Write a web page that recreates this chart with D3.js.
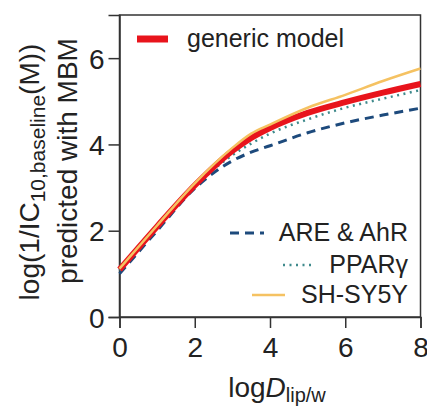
<!DOCTYPE html>
<html>
<head>
<meta charset="utf-8">
<script src="https://d3js.org/d3.v7.min.js"></script>
<style>
  body { margin: 0; background: #fff; }
  text { font-family: "Liberation Sans", Arial, Helvetica, sans-serif; fill: #222; }
</style>
</head>
<body>
<div id="chart"></div>
<script>
// values
var logD = [0, 1, 2, 3, 3.5, 4, 5, 6, 7, 8];
var generic = [1.1, 2.1, 3.05, 3.85, 4.15, 4.38, 4.73, 4.98, 5.2, 5.4];
var areAhr = [1.0, 2.0, 2.98, 3.62, 3.82, 3.97, 4.27, 4.5, 4.68, 4.84];
var ppar = [1.08, 2.08, 3.02, 3.75, 4.02, 4.25, 4.58, 4.85, 5.06, 5.26];
var shsy5y = [1.12, 2.12, 3.1, 3.92, 4.25, 4.46, 4.85, 5.15, 5.47, 5.76];
var xTicks = [0, 2, 4, 6, 8];
var yTicks = [0, 2, 4, 6];

var margin = {top: 15, right: 6.5, bottom: 89, left: 119.5},
    width = 427 - margin.left - margin.right,
    height = 406 - margin.top - margin.bottom;

var svg = d3.select("#chart")
  .append("svg")
    .attr("width", 427)
    .attr("height", 406);

var g = svg.append("g")
    .attr("transform", "translate(" + margin.left + "," + margin.top + ")");

var x = d3.scaleLinear().domain([0, 8]).range([0, width]);
var y = d3.scaleLinear().domain([0, 7]).range([height, 0]);

// frame
g.append("rect")
  .attr("x", 0).attr("y", 0)
  .attr("width", width).attr("height", height)
  .attr("fill", "none")
  .attr("stroke", "#333")
  .attr("stroke-width", 1.5);

// axes
var xAxis = g.append("g")
  .attr("transform", "translate(0," + height + ")")
  .call(d3.axisBottom(x).tickValues(xTicks).tickSize(11).tickPadding(9).tickFormat(d3.format("d")));
var yAxis = g.append("g")
  .call(d3.axisLeft(y).tickValues(yTicks).tickSize(11).tickPadding(4).tickFormat(d3.format("d")));

[xAxis, yAxis].forEach(function(a) {
  a.select(".domain").attr("stroke", "#333").attr("stroke-width", 1.5);
  a.selectAll(".tick line").attr("stroke", "#333").attr("stroke-width", 1.5);
  a.selectAll(".tick text")
    .attr("font-family", "Liberation Sans, Arial, sans-serif")
    .attr("font-size", "28px")
    .attr("fill", "#222");
});
yAxis.selectAll(".tick text").attr("dy", "0.36em");

// curves
var series = [
  {name: "ARE & AhR", values: areAhr, color: "#1d4a7c", w: 3, dash: "9,6"},
  {name: "PPARγ", values: ppar, color: "#3f8a8c", w: 2.5, dash: "2,4.5"},
  {name: "generic model", values: generic, color: "#e8141c", w: 6, dash: null},
  {name: "SH-SY5Y", values: shsy5y, color: "#f5c262", w: 2.5, dash: null}
];

var line = d3.line()
  .x(function(d) { return x(d[0]); })
  .y(function(d) { return y(d[1]); })
  .curve(d3.curveMonotoneX);

g.selectAll(".curve")
  .data(series)
  .enter()
  .append("path")
  .attr("class", "curve")
  .attr("fill", "none")
  .attr("stroke", function(d) { return d.color; })
  .attr("stroke-width", function(d) { return d.w; })
  .attr("stroke-dasharray", function(d) { return d.dash; })
  .attr("d", function(d) { return line(d3.zip(logD, d.values)); });

// legend: generic model top left
svg.append("line")
  .attr("x1", 137).attr("x2", 168)
  .attr("y1", 39).attr("y2", 39)
  .attr("stroke", "#e8141c").attr("stroke-width", 7);
svg.append("text")
  .attr("x", 187).attr("y", 47)
  .attr("font-size", "25px")
  .text("generic model");

// legend: bottom right
var leg = [
  {s: series[0], y: 241, x1: 230, x2: 264},
  {s: series[1], y: 273, x1: 283, x2: 314},
  {s: series[3], y: 303, x1: 252, x2: 285}
];
leg.forEach(function(d) {
  svg.append("line")
    .attr("x1", d.x1).attr("x2", d.x2)
    .attr("y1", d.y - 8).attr("y2", d.y - 8)
    .attr("stroke", d.s.color)
    .attr("stroke-width", d.s.w)
    .attr("stroke-dasharray", d.s.dash);
  svg.append("text")
    .attr("x", 408).attr("y", d.y)
    .attr("text-anchor", "end")
    .attr("font-size", "25px")
    .text(d.s.name);
});

// x label
var xl = svg.append("text")
  .attr("x", 277).attr("y", 397)
  .attr("text-anchor", "middle")
  .attr("font-size", "28px");
xl.append("tspan").text("log");
xl.append("tspan").attr("font-style", "italic").text("D");
xl.append("tspan").attr("font-size", "20px").attr("dy", "5").text("lip/w");

// y label, two lines
var yl1 = svg.append("text")
  .attr("transform", "translate(39,172) rotate(-90)")
  .attr("text-anchor", "middle")
  .attr("font-size", "28px");
yl1.append("tspan").text("log(1/IC");
yl1.append("tspan").attr("font-size", "21px").attr("dy", "6").text("10,baseline");
yl1.append("tspan").attr("dy", "-6").text("(M))");

svg.append("text")
  .attr("transform", "translate(77,161) rotate(-90)")
  .attr("text-anchor", "middle")
  .attr("font-size", "28px")
  .text("predicted with MBM");
</script>
</body>
</html>
